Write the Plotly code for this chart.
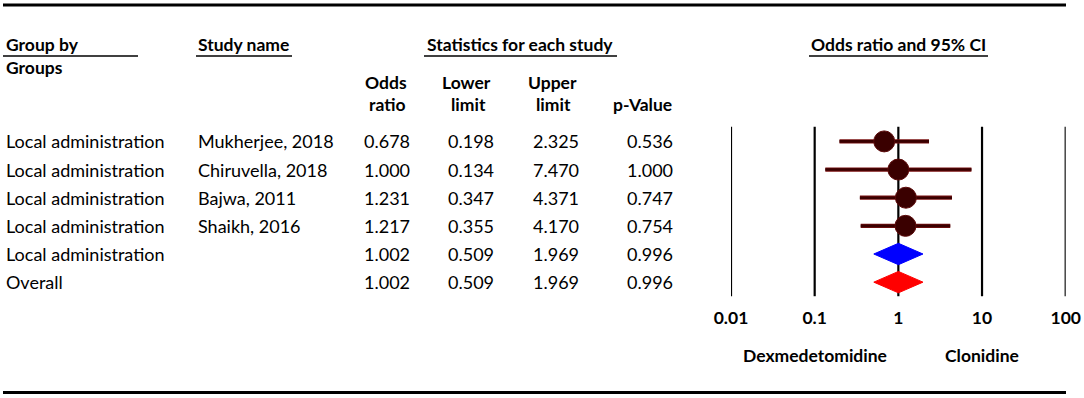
import plotly.graph_objects as go

# ---------------- data ----------------
groups = ["Local administration", "Local administration", "Local administration",
          "Local administration", "Local administration", "Overall"]
studies = ["Mukherjee, 2018", "Chiruvella, 2018", "Bajwa, 2011", "Shaikh, 2016", "", ""]
odds_ratio = [0.678, 1.000, 1.231, 1.217, 1.002, 1.002]
lower_limit = [0.198, 0.134, 0.347, 0.355, 0.509, 0.509]
upper_limit = [2.325, 7.470, 4.371, 4.170, 1.969, 1.969]
p_values = [0.536, 1.000, 0.747, 0.754, 0.996, 0.996]
row_kind = ["study", "study", "study", "study", "subtotal", "overall"]
axis_ticks = [0.01, 0.1, 1, 10, 100]
axis_tick_labels = ["0.01", "0.1", "1", "10", "100"]
favours_left = "Dexmedetomidine"
favours_right = "Clonidine"

# ---------------- geometry ----------------
W, H = 1084, 398
ROW0_PX = 141.4      # pixel y of first row
ROW_PX = 28.15       # pixel spacing between rows
FONT = "Lato"
FS = 18
FSB = 17.5


def py(p):  # pixel y -> paper
    return 1 - p / H


def px(p):  # pixel x -> paper
    return p / W


y_top = -ROW0_PX / ROW_PX
y_bot = (H - ROW0_PX) / ROW_PX

rows = list(range(len(odds_ratio)))
fig = go.Figure()

# CI lines for individual studies
ci_x, ci_y = [], []
for r, k in zip(rows, row_kind):
    if k == "study":
        ci_x += [lower_limit[r], upper_limit[r], None]
        ci_y += [r, r, None]
fig.add_trace(go.Scatter(x=ci_x, y=ci_y, mode="lines",
                         line=dict(color="#7a1212", width=4.2), hoverinfo="skip"))
fig.add_trace(go.Scatter(x=ci_x, y=ci_y, mode="lines",
                         line=dict(color="#3a0000", width=2.6), hoverinfo="skip"))

# point estimates
st_x = [odds_ratio[r] for r in rows if row_kind[r] == "study"]
st_y = [r for r in rows if row_kind[r] == "study"]
fig.add_trace(go.Scatter(x=st_x, y=st_y, mode="markers",
                         marker=dict(size=21, color="#3a0000",
                                     line=dict(color="#5c0a0a", width=1)),
                         hoverinfo="skip"))

# diamonds
DH = 0.38
for r, k in zip(rows, row_kind):
    if k in ("subtotal", "overall"):
        col = "#0000ff" if k == "subtotal" else "#ff0000"
        fig.add_trace(go.Scatter(
            x=[lower_limit[r], odds_ratio[r], upper_limit[r], odds_ratio[r], lower_limit[r]],
            y=[r, r - DH, r, r + DH, r],
            mode="lines", fill="toself", fillcolor=col,
            line=dict(color=col, width=1), hoverinfo="skip"))

# vertical reference lines
for t in axis_ticks:
    fig.add_shape(type="line", xref="x", yref="y", x0=t, x1=t, y0=-0.52, y1=5.5,
                  line=dict(color="black", width=2.2), layer="below")

ann = []


def text(x, y, s, xanchor="left", bold=False, xref="paper", yref="paper"):
    ann.append(dict(x=x, y=y, xref=xref, yref=yref, text=s, showarrow=False,
                    xanchor=xanchor, yanchor="middle",
                    font=dict(family=FONT, size=FSB if bold else FS, color="black",
                              weight="bold" if bold else "normal")))


# table body
for r in rows:
    text(px(4), r, groups[r], yref="y")
    if studies[r]:
        text(px(196), r, studies[r], yref="y")
    text(px(412), r, f"{odds_ratio[r]:.3f}", "right", yref="y")
    text(px(496), r, f"{lower_limit[r]:.3f}", "right", yref="y")
    text(px(581), r, f"{upper_limit[r]:.3f}", "right", yref="y")
    text(px(675), r, f"{p_values[r]:.3f}", "right", yref="y")

# headers
text(px(4), py(45), "Group by", bold=True)
text(px(4), py(68), "Groups", bold=True)
text(px(196), py(45), "Study name", bold=True)
text(px(520), py(45), "Statistics for each study", "center", bold=True)
text(0, py(45), "Odds ratio and 95% CI", "center", bold=True, xref="x")
text(px(386), py(82), "Odds", "center", bold=True)
text(px(387), py(105), "ratio", "center", bold=True)
text(px(466), py(82), "Lower", "center", bold=True)
text(px(468), py(105), "limit", "center", bold=True)
text(px(552), py(82), "Upper", "center", bold=True)
text(px(553), py(105), "limit", "center", bold=True)
text(px(642), py(105), "p-Value", "center", bold=True)

# favours labels
text(-1, py(355), favours_left, "center", bold=True, xref="x")
text(1, py(355), favours_right, "center", bold=True, xref="x")

shapes = []
for x0, x1 in [(3, 138), (196, 292), (424, 617), (809, 988)]:
    shapes.append(dict(type="line", xref="paper", yref="paper", x0=px(x0), x1=px(x1),
                       y0=py(56), y1=py(56), line=dict(color="black", width=1.5)))
for yy in (5, 392.5):
    shapes.append(dict(type="line", xref="paper", yref="paper", x0=px(3), x1=px(1066),
                       y0=py(yy), y1=py(yy), line=dict(color="black", width=3)))
for s in shapes:
    fig.add_shape(**s)

fig.update_layout(
    width=W, height=H, margin=dict(l=0, r=0, t=0, b=0, autoexpand=False),
    paper_bgcolor="white", plot_bgcolor="white", showlegend=False,
    annotations=ann,
    xaxis=dict(type="log", range=[-2, 2], domain=[px(731), px(1065.7)],
               tickvals=axis_ticks, ticktext=axis_tick_labels, ticks="",
               showgrid=False, zeroline=False, showline=False, automargin=False,
               anchor="free", position=py(305),
               tickfont=dict(family=FONT, size=FSB, color="black", weight="bold")),
    yaxis=dict(range=[y_bot, y_top], domain=[0, 1], visible=False,
               showgrid=False, zeroline=False, automargin=False),
)

fig.write_html("out.html", config={"displayModeBar": False},
               post_script="document.body.style.margin='0';document.body.style.overflow='hidden';")
